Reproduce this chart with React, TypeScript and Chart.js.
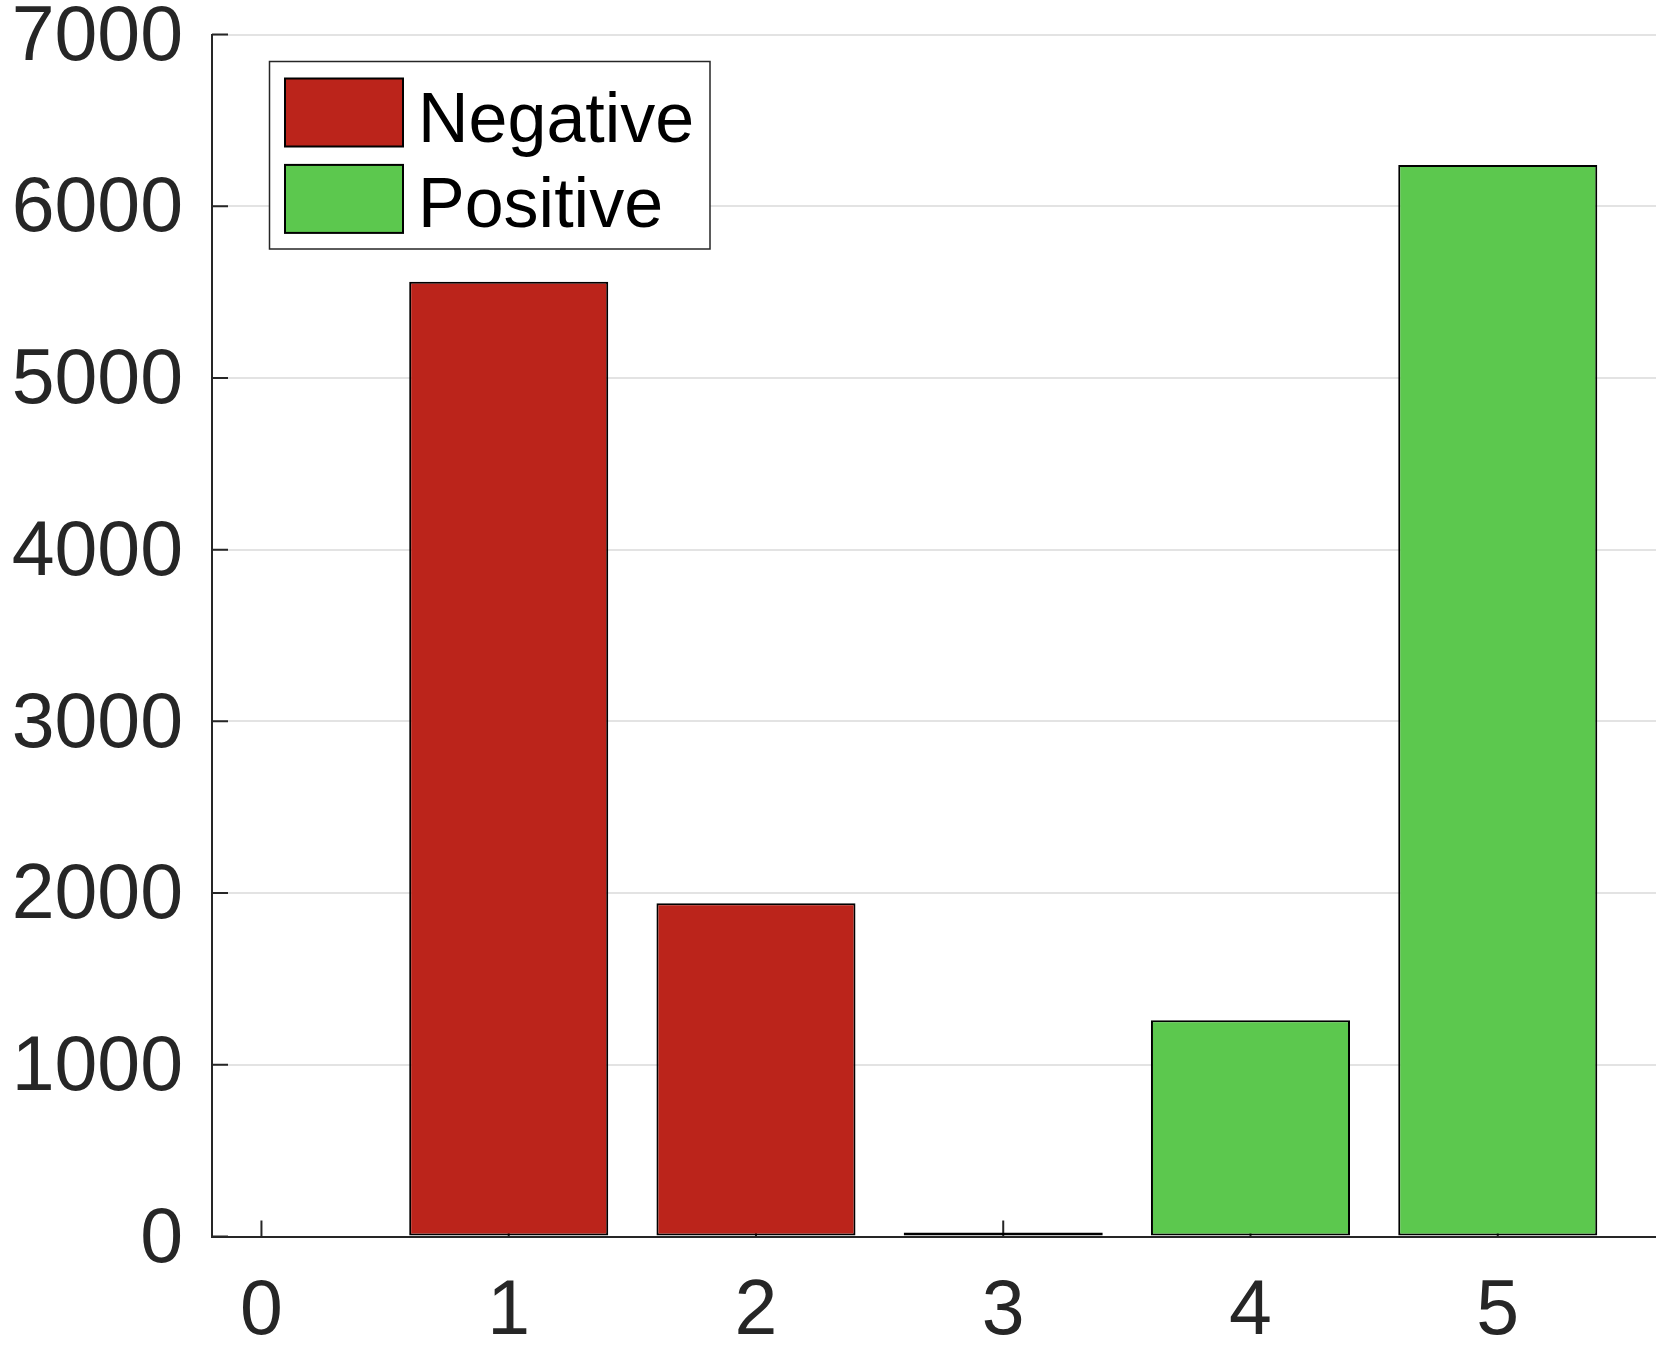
import React, { useEffect, useRef } from "react";
import { Chart, registerables } from "chart.js";

Chart.register(...registerables);

// ---- data ----
const xTickValues = [0, 1, 2, 3, 4, 5];
const yTickValues = [0, 1000, 2000, 3000, 4000, 5000, 6000, 7000];
const negativeScores = [1, 2, 3];
const negativeCounts = [5560, 1940, 0];
const positiveScores = [4, 5];
const positiveCounts = [1260, 6240];
const seriesLabels = ["Negative", "Positive"];
const seriesColors = ["#BB241B", "#5CC84E"];

const FONT = '"Liberation Sans", Arial, Helvetica, sans-serif';

export default function App() {
  const ref = useRef<HTMLCanvasElement>(null);

  useEffect(() => {
    const canvas = ref.current;
    if (!canvas) return;

    const tickPlugin = {
      id: "inwardTicks",
      beforeDatasetsDraw(chart: any) {
        const { ctx, chartArea, scales } = chart;
        ctx.save();
        ctx.strokeStyle = "#262626";
        ctx.lineWidth = 2;
        ctx.beginPath();
        xTickValues.forEach((v) => {
          const px = scales.x.getPixelForValue(v);
          ctx.moveTo(px, chartArea.bottom);
          ctx.lineTo(px, chartArea.bottom - 16);
        });
        yTickValues.forEach((v) => {
          const py = scales.y.getPixelForValue(v);
          ctx.moveTo(chartArea.left, py);
          ctx.lineTo(chartArea.left + 16, py);
        });
        ctx.stroke();
        ctx.restore();
      },
    };

    const legendPlugin = {
      id: "boxLegend",
      afterDraw(chart: any) {
        const c = chart.ctx;
        c.save();
        c.fillStyle = "#ffffff";
        c.fillRect(269.5, 61.5, 440.5, 187.5);
        c.strokeStyle = "#262626";
        c.lineWidth = 1.5;
        c.strokeRect(269.5, 61.5, 440.5, 187.5);
        chart.data.datasets.forEach((ds: any, i: number) => {
          const top = 78.5 + i * 86.4;
          c.fillStyle = ds.backgroundColor;
          c.fillRect(285, top, 118, 68);
          c.lineWidth = 2;
          c.strokeStyle = "#000000";
          c.strokeRect(285, top, 118, 68);
          c.fillStyle = "#000000";
          c.font = `70px ${FONT}`;
          c.textBaseline = "alphabetic";
          c.textAlign = "left";
          c.fillText(ds.label, 418, 141.7 + i * 85);
        });
        c.restore();
      },
    };

    const chart = new Chart(canvas, {
      type: "bar",
      data: {
        datasets: [
          {
            label: seriesLabels[0],
            data: negativeScores.map((x, i) => ({ x, y: negativeCounts[i] })),
            backgroundColor: seriesColors[0],
            borderColor: "#000000",
            borderWidth: 2,
            borderSkipped: false,
            minBarLength: 4,
            grouped: false,
            barPercentage: 0.805,
            categoryPercentage: 1,
            clip: 4,
          } as any,
          {
            label: seriesLabels[1],
            data: positiveScores.map((x, i) => ({ x, y: positiveCounts[i] })),
            backgroundColor: seriesColors[1],
            borderColor: "#000000",
            borderWidth: 2,
            borderSkipped: false,
            grouped: false,
            barPercentage: 0.805,
            categoryPercentage: 1,
            clip: 4,
          } as any,
        ],
      },
      options: {
        animation: false,
        responsive: true,
        maintainAspectRatio: false,
        layout: { padding: { left: 0, right: 0, top: 34.5, bottom: 0 } },
        plugins: {
          legend: { display: false },
          tooltip: { enabled: false },
        },
        scales: {
          x: {
            type: "linear",
            offset: false,
            min: -0.2,
            max: 5.64,
            grid: { display: false, drawTicks: false, offset: false },
            border: { display: true, color: "#262626", width: 2 },
            ticks: {
              stepSize: 1,
              includeBounds: false,
              autoSkip: false,
              maxRotation: 0,
              padding: 30,
              color: "#262626",
              font: { family: FONT, size: 77 },
              callback: (v: any) => (Number.isInteger(v) ? String(v) : ""),
            },
            afterFit: (s: any) => {
              s.height = 117.5;
              s.paddingLeft = 0;
              s.paddingRight = 0;
            },
          } as any,
          y: {
            min: 0,
            max: 7000,
            grid: { color: "#e3e3e3", lineWidth: 2, drawTicks: false },
            border: { display: true, color: "#262626", width: 2 },
            ticks: {
              stepSize: 1000,
              padding: 29,
              labelOffset: 4,
              color: "#262626",
              font: { family: FONT, size: 77 },
              callback: (v: any) => String(v),
            },
            afterFit: (s: any) => {
              s.width = 212;
              s.paddingTop = 0;
              s.paddingBottom = 0;
            },
          } as any,
        },
      },
      plugins: [tickPlugin, legendPlugin],
    });

    return () => chart.destroy();
  }, []);

  return (
    <div
      style={{
        position: "fixed",
        left: 0,
        top: 0,
        width: 1656,
        height: 1354,
        background: "#ffffff",
      }}
    >
      <canvas ref={ref} />
    </div>
  );
}
